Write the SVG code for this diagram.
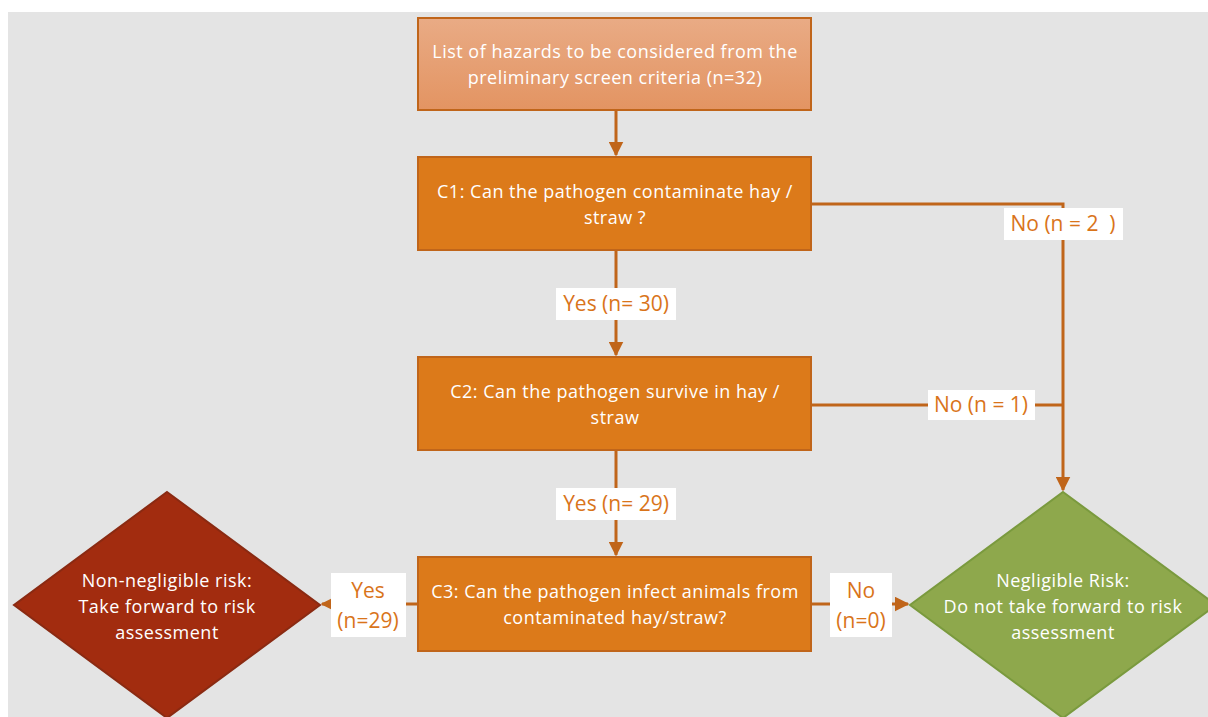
<svg xmlns="http://www.w3.org/2000/svg" width="1208" height="717" viewBox="0 0 1208 717">
<defs>
<linearGradient id="g1" x1="0" y1="0" x2="0" y2="1">
<stop offset="0" stop-color="#e9ab85"/>
<stop offset="1" stop-color="#e39462"/>
</linearGradient>
<marker id="ah" viewBox="0 0 10 10" refX="9" refY="5" markerWidth="5" markerHeight="5" orient="auto" markerUnits="strokeWidth">
<path d="M0,0 L10,5 L0,10 z" fill="#c0651a"/>
</marker>
<style>
.box{fill:#dc7a1a;stroke:#c0651a;stroke-width:2}
.wt{font-family:"Open Sans","Liberation Sans",sans-serif;font-size:18px;letter-spacing:0.5px;fill:#ffffff;text-anchor:middle}
.conn{fill:none;stroke:#c0651a;stroke-width:3}
.lbl{fill:#ffffff}
.lt{font-family:"Open Sans","Liberation Sans",sans-serif;font-size:21px;fill:#d9741a;text-anchor:middle;white-space:pre}
</style>
</defs>
<rect x="0" y="0" width="1208" height="717" fill="#ffffff"/>
<rect x="8" y="12" width="1200" height="705" fill="#e4e4e4"/>

<g id="connectors">
<path class="conn" d="M616,111 L616,155" marker-end="url(#ah)"/>
<path class="conn" d="M616,251 L616,355" marker-end="url(#ah)"/>
<path class="conn" d="M616,451 L616,555" marker-end="url(#ah)"/>
<path class="conn" d="M812,204 L1063,204 L1063,490" marker-end="url(#ah)"/>
<path class="conn" d="M812,405 L1063,405"/>
<path class="conn" d="M417,604 L322,604" marker-end="url(#ah)"/>
<path class="conn" d="M812,604 L908,604" marker-end="url(#ah)"/>
<g id="label-no2">
<rect class="lbl" x="1004" y="208" width="119" height="32"/>
<text class="lt" x="1063" y="231" xml:space="preserve">No (n = 2  )</text>
</g>
<g id="label-no1">
<rect class="lbl" x="928" y="390" width="107" height="30"/>
<text class="lt" x="981" y="412">No (n = 1)</text>
</g>
<g id="label-yes30">
<rect class="lbl" x="556" y="288" width="120" height="32"/>
<text class="lt" x="616" y="311">Yes (n= 30)</text>
</g>
<g id="label-yes29">
<rect class="lbl" x="556" y="488" width="120" height="32"/>
<text class="lt" x="616" y="511">Yes (n= 29)</text>
</g>
<g id="label-yes29b">
<rect class="lbl" x="331" y="573" width="75" height="64"/>
<text class="lt" x="368" y="598">Yes</text>
<text class="lt" x="368" y="628">(n=29)</text>
</g>
<g id="label-no0">
<rect class="lbl" x="830" y="573" width="62" height="64"/>
<text class="lt" x="861" y="598">No</text>
<text class="lt" x="861" y="628">(n=0)</text>
</g>
</g>

<g id="start">
<rect x="418" y="18" width="393" height="92" fill="url(#g1)" stroke="#c0651a" stroke-width="2"/>
<text class="wt" x="615" y="58">List of hazards to be considered from the</text>
<text class="wt" x="615" y="84">preliminary screen criteria (n=32)</text>
</g>

<g id="c1">
<rect class="box" x="418" y="157" width="393" height="93"/>
<text class="wt" x="615" y="198">C1: Can the pathogen contaminate hay /</text>
<text class="wt" x="615" y="224">straw ?</text>
</g>

<g id="c2">
<rect class="box" x="418" y="357" width="393" height="93"/>
<text class="wt" x="615" y="398">C2: Can the pathogen survive in hay /</text>
<text class="wt" x="615" y="424">straw</text>
</g>

<g id="c3">
<rect class="box" x="418" y="557" width="393" height="94"/>
<text class="wt" x="615" y="598">C3: Can the pathogen infect animals from</text>
<text class="wt" x="615" y="624">contaminated hay/straw?</text>
</g>

<g id="non-negligible">
<polygon points="167,492 320,605 167,718 14,605" fill="#a22c0f" stroke="#8a2a12" stroke-width="2"/>
<text class="wt" x="167" y="587">Non-negligible risk:</text>
<text class="wt" x="167" y="613">Take forward to risk</text>
<text class="wt" x="167" y="639">assessment</text>
</g>

<g id="negligible">
<polygon points="1063,492 1216,605 1063,718 910,605" fill="#8ea84c" stroke="#7a9a3e" stroke-width="2"/>
<text class="wt" x="1063" y="587">Negligible Risk:</text>
<text class="wt" x="1063" y="613">Do not take forward to risk</text>
<text class="wt" x="1063" y="639">assessment</text>
</g>
</svg>
